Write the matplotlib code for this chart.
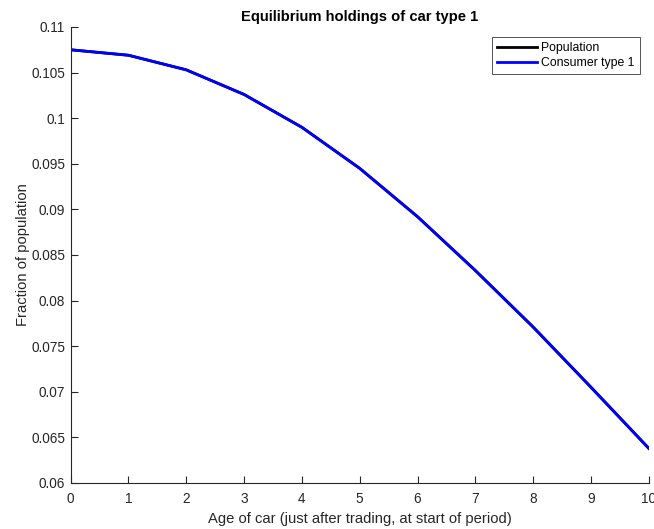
import matplotlib.pyplot as plt
import numpy as np

plt.rcParams['font.family'] = ['Liberation Sans', 'DejaVu Sans']

age = np.arange(11)
population = [0.1075, 0.1069, 0.1053, 0.1026, 0.0990, 0.0945,
              0.0892, 0.0833, 0.0771, 0.0705, 0.0638]
consumer1 = [0.1075, 0.1069, 0.1053, 0.1026, 0.0990, 0.0945,
             0.0892, 0.0833, 0.0771, 0.0705, 0.0638]
ytick_vals = [0.06, 0.065, 0.07, 0.075, 0.08, 0.085, 0.09, 0.095, 0.1, 0.105, 0.11]
ytick_text = ['0.06', '0.065', '0.07', '0.075', '0.08', '0.085',
              '0.09', '0.095', '0.1', '0.105', '0.11']

fig = plt.figure(figsize=(6.54, 5.29), dpi=100)
ax = fig.add_axes([0.108, 0.087, 0.884, 0.862])

ax.plot(age, population, color='black', lw=2, label='Population')
ax.plot(age, consumer1, color='blue', lw=2, label='Consumer type 1')

ax.set_xlim(0, 10)
ax.set_ylim(0.06, 0.11)
ax.set_xticks(age)
ax.set_yticks(ytick_vals)
ax.set_yticklabels(ytick_text)

# box off: only the left and bottom axis lines
gray = '#262626'
for s in ['top', 'right']:
    ax.spines[s].set_visible(False)
for s in ['left', 'bottom']:
    ax.spines[s].set_color(gray)
    ax.spines[s].set_linewidth(0.8)
ax.tick_params(direction='in', length=5, width=0.8, colors=gray,
               labelsize=9.8, labelcolor=gray)
ax.tick_params(axis='x', pad=6.5)
ax.tick_params(axis='y', pad=4)

ax.set_xlabel('Age of car (just after trading, at start of period)',
              fontsize=10.6, color=gray, labelpad=4.5)
ax.set_ylabel('Fraction of population', fontsize=10.6, color=gray, labelpad=1)
ax.set_title('Equilibrium holdings of car type 1', fontsize=10.6,
             fontweight='bold', pad=4.5)

leg = ax.legend(loc='upper right', bbox_to_anchor=(640 / 654, 1 - 37 / 529),
                bbox_transform=fig.transFigure,
                fontsize=8.8, frameon=True, fancybox=False,
                handlelength=3.3, borderpad=0.42, labelspacing=0.22,
                handletextpad=0.35, borderaxespad=0)
leg.get_frame().set_edgecolor(gray)
leg.get_frame().set_linewidth(0.7)

fig.savefig('out.png', dpi=100)
